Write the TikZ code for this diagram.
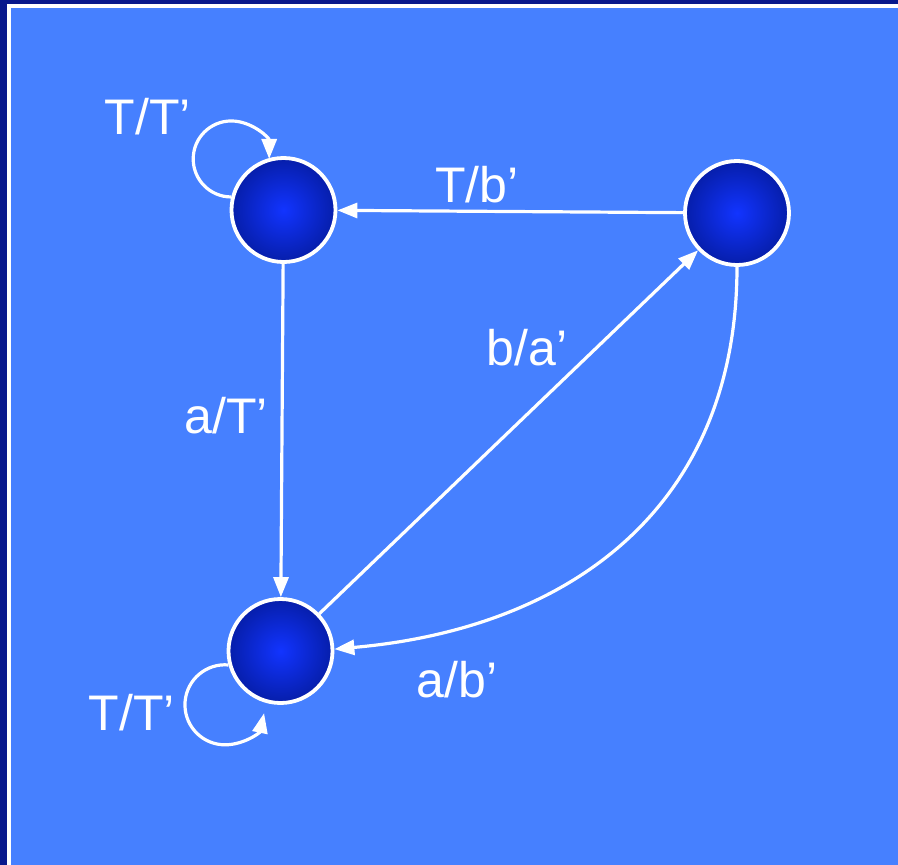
\documentclass[tikz,border=0pt]{standalone}
\usepackage{fontspec}
\setmainfont{Liberation Sans}
\usetikzlibrary{arrows.meta}
\definecolor{navy}{RGB}{8,24,140}
\definecolor{bgblue}{RGB}{70,128,255}
\definecolor{ballin}{RGB}{18,52,255}
\definecolor{ballout}{RGB}{6,30,170}
\begin{document}
\begin{tikzpicture}[x=1pt,y=-1pt,
  state/.style={circle, draw=white, line width=3.8pt, minimum size=104pt, inner sep=0pt, inner color=ballin, outer color=ballout},
  edge/.style={draw=white, line width=3.2pt, -{Triangle[length=20pt,width=15pt]}},
  lbl/.style={text=white, font=\fontsize{50}{60}\selectfont, inner sep=0pt}]
\useasboundingbox (0,0) rectangle (898,865);
\fill[navy] (0,0) rectangle (898,865);
\fill[white] (7,4) rectangle (898,865);
\fill[bgblue] (10.5,7.5) rectangle (898,865);

\node[state] (tl) at (283.5,210) {};
\node[state] (tr) at (737,213) {};
\node[state] (bl) at (280.5,651) {};

\draw[edge] (tr) -- (tl);
\draw[edge] (tl) -- (bl);
\draw[edge] (bl) -- (tr);
\draw[edge] (tr.south) to[out=-90,in=5,looseness=1.1] (bl.2);
\draw[edge] (tl.166) arc[start angle=-90, end angle=-360, radius=38pt];
\draw[edge] (bl.195) arc[start angle=85, end angle=348, radius=40pt];

\node[lbl] (l1) at (148,117) {T/T’};
\node[lbl] (l2) at (132,713) {T/T’};
\node[lbl] (l3) at (477,185) {T/b’};
\node[lbl] (l4) at (527,348) {b/a’};
\node[lbl] (l5) at (226,416) {a/T’};
\node[lbl] (l6) at (457,680) {a/b’};
\end{tikzpicture}
\end{document}
